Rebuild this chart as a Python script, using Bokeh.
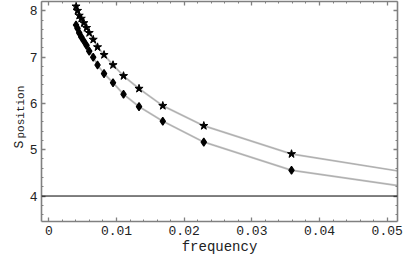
import math
from bokeh.plotting import figure
from bokeh.models import (LinearAxis, FixedTicker, Span, Title, Range1d)
from bokeh.embed import file_html
from bokeh.resources import INLINE

# ---- data ----
frequency = [0.00402, 0.00424, 0.00449, 0.00479, 0.00517, 0.00557, 0.00597, 0.00656,
             0.00720, 0.00816, 0.00949, 0.01104, 0.01333, 0.01684, 0.02290, 0.03586]
s_upper = [8.095, 8.000, 7.897, 7.831, 7.736, 7.631, 7.523, 7.378,
           7.215, 7.048, 6.829, 6.593, 6.319, 5.949, 5.516, 4.908]
s_lower = [7.692, 7.620, 7.523, 7.435, 7.347, 7.253, 7.127, 6.996,
           6.829, 6.644, 6.446, 6.198, 5.930, 5.615, 5.165, 4.556]
# curve continuation at the right edge of the frame
curve_end_x = 0.0515
curve_end_upper = 4.543
curve_end_lower = 4.226
reference_level = 4.0

x_ticks = [0, 0.01, 0.02, 0.03, 0.04, 0.05]
x_tick_labels = ["0", "0.01", "0.02", "0.03", "0.04", "0.05"]
y_ticks = [4, 5, 6, 7, 8]
y_tick_labels = ["4", "5", "6", "7", "8"]
x_label = "frequency"
y_label_main = "S"
y_label_sub = "position"

x_minor = [round(-0.002 + 0.002 * i, 4) for i in range(28)]
y_minor = [round(3.4 + 0.2 * i, 1) for i in range(25)]

p = figure(width=415, height=257, output_backend="svg", toolbar_location=None,
           x_range=Range1d(-0.00108, 0.05152), y_range=Range1d(3.45, 8.2),
           min_border_left=41, min_border_right=18, min_border_top=1,
           min_border_bottom=0, x_axis_type=None, y_axis_type=None)
p.outline_line_color = None
p.xgrid.visible = False
p.ygrid.visible = False
p.background_fill_color = "white"
p.border_fill_color = "white"

FONT = "Liberation Mono"
AX_COL = "#808080"


def style_axis(ax, show_labels):
    ax.axis_line_color = AX_COL
    ax.axis_line_width = 1.6
    ax.major_tick_line_color = AX_COL
    ax.minor_tick_line_color = AX_COL
    ax.major_tick_line_width = 1.3
    ax.minor_tick_line_width = 1.0
    ax.major_tick_in = 4
    ax.major_tick_out = 0
    ax.minor_tick_in = 2
    ax.minor_tick_out = 0
    ax.major_label_text_font = FONT
    ax.major_label_text_color = "#222222"
    ax.major_label_text_font_size = "13px"
    if show_labels:
        ax.major_label_standoff = 5
    else:
        ax.major_label_standoff = 0


xb = LinearAxis(ticker=FixedTicker(ticks=x_ticks, minor_ticks=x_minor))
xb.major_label_overrides = {t: l for t, l in zip(x_ticks, x_tick_labels)}
style_axis(xb, True)
xb.major_label_standoff = 4
xb.axis_label = x_label
xb.axis_label_text_font = FONT
xb.axis_label_text_font_style = "normal"
xb.axis_label_text_font_size = "14px"
xb.axis_label_text_color = "#222222"
xb.axis_label_standoff = 1
p.add_layout(xb, "below")

xt = LinearAxis(ticker=FixedTicker(ticks=x_ticks, minor_ticks=x_minor))
xt.major_label_overrides = {t: "" for t in x_ticks}
style_axis(xt, False)
p.add_layout(xt, "above")

yl = LinearAxis(ticker=FixedTicker(ticks=y_ticks, minor_ticks=y_minor))
yl.major_label_overrides = {t: l for t, l in zip(y_ticks, y_tick_labels)}
style_axis(yl, True)
yl.major_label_standoff = 4
p.add_layout(yl, "left")

yr = LinearAxis(ticker=FixedTicker(ticks=y_ticks, minor_ticks=y_minor))
yr.major_label_overrides = {t: "" for t in y_ticks}
style_axis(yr, False)
p.add_layout(yr, "right")

# y-axis label "S" with subscript "position", as two vertical titles
p.add_layout(Title(text=y_label_sub, align="left", offset=83, standoff=0,
                   text_font=FONT, text_font_size="11px", text_font_style="normal",
                   text_color="#222222"), "left")
p.add_layout(Title(text=y_label_main, align="left", offset=73, standoff=-28,
                   text_font=FONT, text_font_size="13px", text_font_style="normal",
                   text_color="#222222"), "left")

p.add_layout(Span(location=reference_level, dimension="width",
                  line_color="black", line_width=1))

cx = frequency + [curve_end_x]
cu = s_upper + [curve_end_upper]
cl = s_lower + [curve_end_lower]
for ys in (cu, cl):
    p.line(cx, ys, line_color="#c8c8c8", line_width=2.0)
    p.line(cx, ys, line_color="#707070", line_width=0.6, line_alpha=0.5)

p.scatter(frequency, s_upper, marker="star", size=8.5, fill_color="black",
          line_color="black")
p.scatter(frequency, s_lower, marker="diamond", size=8, fill_color="black",
          line_color="black", line_width=1.2)

open("out.html", "w").write(file_html(p, INLINE))
